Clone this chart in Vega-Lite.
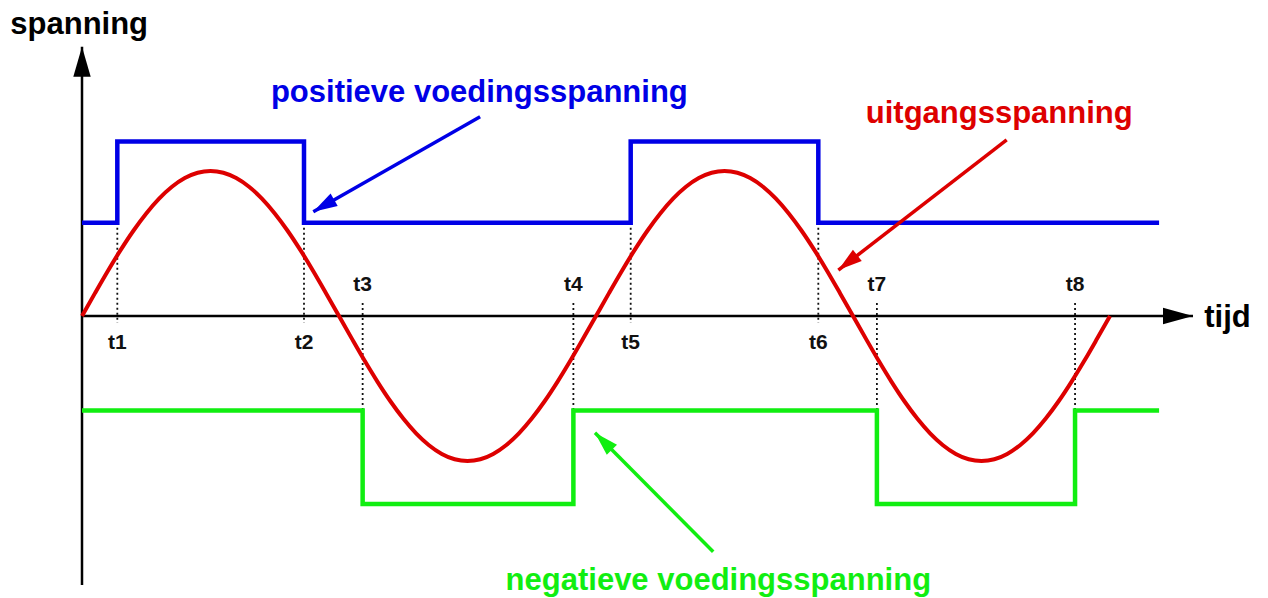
{
  "$schema": "https://vega.github.io/schema/vega-lite/v6.json",
  "width": 1268,
  "height": 598,
  "padding": 0,
  "autosize": {"type": "fit", "contains": "padding"},
  "background": "#ffffff",
  "config": {"view": {"stroke": null}},
  "datasets": {
    "assen": [
      {"as": "spanning", "t": 0, "v": -18.55, "t2": 0, "v2": 18.57},
      {"as": "tijd", "t": 0, "v": 0, "t2": 43.23, "v2": 0}
    ],
    "positief": [
      {"t": 0, "v": 6.43},
      {"t": 1.374, "v": 12.03},
      {"t": 8.638, "v": 6.43},
      {"t": 21.35, "v": 12.03},
      {"t": 28.65, "v": 6.43},
      {"t": 41.91, "v": 6.43}
    ],
    "negatief": [
      {"t": 0, "v": -6.52},
      {"t": 10.92, "v": -12.97},
      {"t": 19.12, "v": -6.52},
      {"t": 30.93, "v": -12.97},
      {"t": 38.64, "v": -6.52},
      {"t": 41.91, "v": -6.52}
    ],
    "uitgang": [
      {"t": 0, "v": 0}, {"t": 0.5, "v": 1.56}, {"t": 1, "v": 3.09}, {"t": 1.5, "v": 4.54},
      {"t": 2, "v": 5.88}, {"t": 2.5, "v": 7.07}, {"t": 3, "v": 8.09}, {"t": 3.5, "v": 8.91},
      {"t": 4, "v": 9.51}, {"t": 4.5, "v": 9.88}, {"t": 5, "v": 10}, {"t": 5.5, "v": 9.88},
      {"t": 6, "v": 9.51}, {"t": 6.5, "v": 8.91}, {"t": 7, "v": 8.09}, {"t": 7.5, "v": 7.07},
      {"t": 8, "v": 5.88}, {"t": 8.5, "v": 4.54}, {"t": 9, "v": 3.09}, {"t": 9.5, "v": 1.56},
      {"t": 10, "v": 0}, {"t": 10.5, "v": -1.56}, {"t": 11, "v": -3.09}, {"t": 11.5, "v": -4.54},
      {"t": 12, "v": -5.88}, {"t": 12.5, "v": -7.07}, {"t": 13, "v": -8.09}, {"t": 13.5, "v": -8.91},
      {"t": 14, "v": -9.51}, {"t": 14.5, "v": -9.88}, {"t": 15, "v": -10}, {"t": 15.5, "v": -9.88},
      {"t": 16, "v": -9.51}, {"t": 16.5, "v": -8.91}, {"t": 17, "v": -8.09}, {"t": 17.5, "v": -7.07},
      {"t": 18, "v": -5.88}, {"t": 18.5, "v": -4.54}, {"t": 19, "v": -3.09}, {"t": 19.5, "v": -1.56},
      {"t": 20, "v": 0}, {"t": 20.5, "v": 1.56}, {"t": 21, "v": 3.09}, {"t": 21.5, "v": 4.54},
      {"t": 22, "v": 5.88}, {"t": 22.5, "v": 7.07}, {"t": 23, "v": 8.09}, {"t": 23.5, "v": 8.91},
      {"t": 24, "v": 9.51}, {"t": 24.5, "v": 9.88}, {"t": 25, "v": 10}, {"t": 25.5, "v": 9.88},
      {"t": 26, "v": 9.51}, {"t": 26.5, "v": 8.91}, {"t": 27, "v": 8.09}, {"t": 27.5, "v": 7.07},
      {"t": 28, "v": 5.88}, {"t": 28.5, "v": 4.54}, {"t": 29, "v": 3.09}, {"t": 29.5, "v": 1.56},
      {"t": 30, "v": 0}, {"t": 30.5, "v": -1.56}, {"t": 31, "v": -3.09}, {"t": 31.5, "v": -4.54},
      {"t": 32, "v": -5.88}, {"t": 32.5, "v": -7.07}, {"t": 33, "v": -8.09}, {"t": 33.5, "v": -8.91},
      {"t": 34, "v": -9.51}, {"t": 34.5, "v": -9.88}, {"t": 35, "v": -10}, {"t": 35.5, "v": -9.88},
      {"t": 36, "v": -9.51}, {"t": 36.5, "v": -8.91}, {"t": 37, "v": -8.09}, {"t": 37.5, "v": -7.07},
      {"t": 38, "v": -5.88}, {"t": 38.5, "v": -4.54}, {"t": 39, "v": -3.09}, {"t": 39.5, "v": -1.56},
      {"t": 40, "v": 0}
    ],
    "tijdstippen": [
      {"label": "t1", "t": 1.374, "boven": 6.43, "onder": -0.48, "kant": "onder"},
      {"label": "t2", "t": 8.638, "boven": 6.43, "onder": -0.48, "kant": "onder"},
      {"label": "t3", "t": 10.92, "boven": 0.9, "onder": -6.52, "kant": "boven"},
      {"label": "t4", "t": 19.12, "boven": 0.9, "onder": -6.52, "kant": "boven"},
      {"label": "t5", "t": 21.35, "boven": 6.43, "onder": -0.48, "kant": "onder"},
      {"label": "t6", "t": 28.65, "boven": 6.43, "onder": -0.48, "kant": "onder"},
      {"label": "t7", "t": 30.93, "boven": 0.9, "onder": -6.52, "kant": "boven"},
      {"label": "t8", "t": 38.64, "boven": 0.9, "onder": -6.52, "kant": "boven"}
    ],
    "teksten": [
      {"tekst": "spanning", "signaal": "as", "t": -0.11, "v": 19.43},
      {"tekst": "tijd", "signaal": "as", "t": 44.57, "v": -0.74},
      {"tekst": "positieve voedingsspanning", "signaal": "positief", "t": 15.46, "v": 14.78},
      {"tekst": "uitgangsspanning", "signaal": "uitgang", "t": 35.69, "v": 13.29},
      {"tekst": "negatieve voedingsspanning", "signaal": "negatief", "t": 24.76, "v": -18.9}
    ],
    "pijlen": [
      {"signaal": "positief", "t": 9.0, "v": 7.19, "t2": 15.49, "v2": 13.74},
      {"signaal": "uitgang", "t": 29.43, "v": 3.17, "t2": 35.98, "v2": 12.14},
      {"signaal": "negatief", "t": 19.96, "v": -8.05, "t2": 24.56, "v2": -16.26}
    ]
  },
  "layer": [
    {
      "data": {"name": "tijdstippen"},
      "mark": {"type": "rule", "color": "#111111", "strokeWidth": 1.8, "strokeDash": [2, 3]},
      "encoding": {
        "x": {"field": "t", "type": "quantitative", "axis": null,
              "scale": {"domain": [-3.1907, 46.1479], "nice": false, "zero": false}},
        "y": {"field": "boven", "type": "quantitative", "axis": null,
              "scale": {"domain": [-19.4483, 21.7931], "nice": false, "zero": false}},
        "y2": {"field": "onder"}
      }
    },
    {
      "data": {"name": "assen"},
      "mark": {"type": "rule", "color": "#000000", "strokeWidth": 2.5},
      "encoding": {
        "x": {"field": "t", "type": "quantitative", "axis": null},
        "y": {"field": "v", "type": "quantitative", "axis": null},
        "x2": {"field": "t2"},
        "y2": {"field": "v2"}
      }
    },
    {
      "data": {"name": "assen"},
      "transform": [{"filter": "datum.as === 'spanning'"}],
      "mark": {"type": "point", "shape": "M0,0L0.58,2L-0.58,2Z", "size": 900, "filled": true, "opacity": 1, "color": "#000000"},
      "encoding": {
        "x": {"field": "t2", "type": "quantitative", "axis": null},
        "y": {"field": "v2", "type": "quantitative", "axis": null}
      }
    },
    {
      "data": {"name": "assen"},
      "transform": [{"filter": "datum.as === 'tijd'"}],
      "mark": {"type": "point", "shape": "M0,0L-2,-0.55L-2,0.55Z", "size": 900, "filled": true, "opacity": 1, "color": "#000000"},
      "encoding": {
        "x": {"field": "t2", "type": "quantitative", "axis": null},
        "y": {"field": "v2", "type": "quantitative", "axis": null}
      }
    },
    {
      "data": {"name": "positief"},
      "mark": {"type": "line", "interpolate": "step-after", "color": "#0000e6", "strokeWidth": 4.5, "strokeJoin": "miter"},
      "encoding": {
        "x": {"field": "t", "type": "quantitative", "axis": null},
        "y": {"field": "v", "type": "quantitative", "axis": null}
      }
    },
    {
      "data": {"name": "negatief"},
      "mark": {"type": "line", "interpolate": "step-after", "color": "#11ee11", "strokeWidth": 4.5, "strokeJoin": "miter"},
      "encoding": {
        "x": {"field": "t", "type": "quantitative", "axis": null},
        "y": {"field": "v", "type": "quantitative", "axis": null}
      }
    },
    {
      "data": {"name": "uitgang"},
      "mark": {"type": "line", "interpolate": "monotone", "color": "#dd0000", "strokeWidth": 4},
      "encoding": {
        "x": {"field": "t", "type": "quantitative", "axis": null},
        "y": {"field": "v", "type": "quantitative", "axis": null}
      }
    },
    {
      "data": {"name": "tijdstippen"},
      "transform": [{"filter": "datum.kant === 'onder'"}],
      "mark": {"type": "text", "font": "Liberation Sans", "fontWeight": "bold", "fontSize": 21, "color": "#111111", "baseline": "alphabetic", "align": "center", "dy": 26},
      "encoding": {
        "x": {"field": "t", "type": "quantitative", "axis": null},
        "y": {"field": "onder", "type": "quantitative", "axis": null},
        "text": {"field": "label"}
      }
    },
    {
      "data": {"name": "tijdstippen"},
      "transform": [{"filter": "datum.kant === 'boven'"}],
      "mark": {"type": "text", "font": "Liberation Sans", "fontWeight": "bold", "fontSize": 21, "color": "#111111", "baseline": "alphabetic", "align": "center", "dy": -12},
      "encoding": {
        "x": {"field": "t", "type": "quantitative", "axis": null},
        "y": {"field": "boven", "type": "quantitative", "axis": null},
        "text": {"field": "label"}
      }
    },
    {
      "data": {"name": "pijlen"},
      "mark": {"type": "rule", "strokeWidth": 3.5},
      "encoding": {
        "x": {"field": "t", "type": "quantitative", "axis": null},
        "y": {"field": "v", "type": "quantitative", "axis": null},
        "x2": {"field": "t2"},
        "y2": {"field": "v2"},
        "color": {"field": "signaal", "type": "nominal", "legend": null,
                  "scale": {"domain": ["positief", "uitgang", "negatief", "as"],
                            "range": ["#0000e6", "#dd0000", "#11ee11", "#000000"]}}
      }
    },
    {
      "data": {"name": "pijlen"},
      "transform": [{"filter": "datum.signaal === 'positief'"}],
      "mark": {"type": "point", "shape": "M0,0L-2,-0.6L-2,0.6Z", "size": 576, "angle": 150.3, "filled": true, "opacity": 1, "color": "#0000e6"},
      "encoding": {
        "x": {"field": "t", "type": "quantitative", "axis": null},
        "y": {"field": "v", "type": "quantitative", "axis": null}
      }
    },
    {
      "data": {"name": "pijlen"},
      "transform": [{"filter": "datum.signaal === 'uitgang'"}],
      "mark": {"type": "point", "shape": "M0,0L-2,-0.6L-2,0.6Z", "size": 576, "angle": 142.3, "filled": true, "opacity": 1, "color": "#dd0000"},
      "encoding": {
        "x": {"field": "t", "type": "quantitative", "axis": null},
        "y": {"field": "v", "type": "quantitative", "axis": null}
      }
    },
    {
      "data": {"name": "pijlen"},
      "transform": [{"filter": "datum.signaal === 'negatief'"}],
      "mark": {"type": "point", "shape": "M0,0L-2,-0.6L-2,0.6Z", "size": 576, "angle": 225.2, "filled": true, "opacity": 1, "color": "#11ee11"},
      "encoding": {
        "x": {"field": "t", "type": "quantitative", "axis": null},
        "y": {"field": "v", "type": "quantitative", "axis": null}
      }
    },
    {
      "data": {"name": "teksten"},
      "mark": {"type": "text", "font": "Liberation Sans", "fontWeight": "bold", "fontSize": 31, "baseline": "alphabetic", "align": "center"},
      "encoding": {
        "x": {"field": "t", "type": "quantitative", "axis": null},
        "y": {"field": "v", "type": "quantitative", "axis": null},
        "text": {"field": "tekst"},
        "color": {"field": "signaal", "type": "nominal", "legend": null}
      }
    }
  ]
}
